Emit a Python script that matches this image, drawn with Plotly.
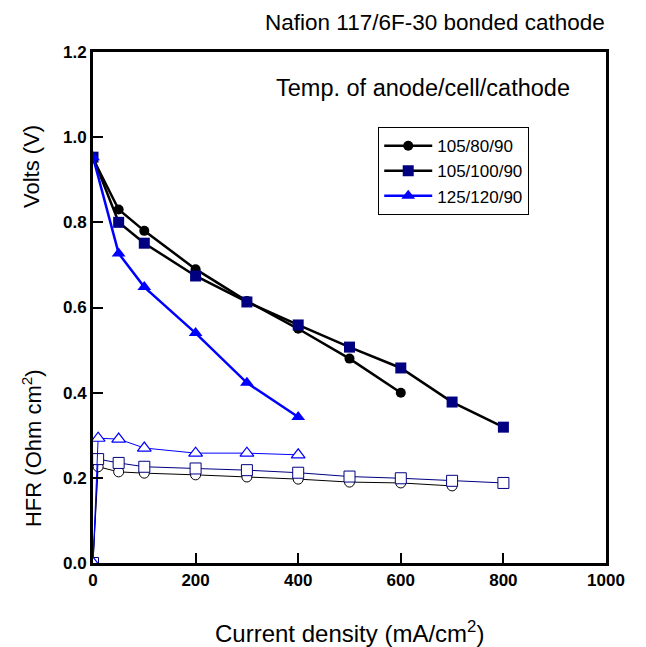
import plotly.graph_objects as go

# Polarisation data (Volts)
x_v1 = [0, 50, 100, 200, 300, 400, 500, 600]
y_v1 = [0.95, 0.83, 0.78, 0.69, 0.615, 0.55, 0.48, 0.40]
x_v2 = [0, 50, 100, 200, 300, 400, 500, 600, 700, 800]
y_v2 = [0.953, 0.80, 0.751, 0.674, 0.613, 0.559, 0.507, 0.458, 0.378, 0.319]
x_v3 = [0, 50, 100, 200, 300, 400]
y_v3 = [0.953, 0.727, 0.648, 0.540, 0.423, 0.343]

# HFR data (Ohm cm2)
x_h1 = [0, 10, 50, 100, 200, 300, 400, 500, 600, 700]
y_h1 = [0.0, 0.226, 0.214, 0.211, 0.207, 0.202, 0.197, 0.190, 0.188, 0.181]
x_h2 = [0, 10, 50, 100, 200, 300, 400, 500, 600, 700, 800]
y_h2 = [0.0, 0.244, 0.235, 0.226, 0.222, 0.218, 0.212, 0.203, 0.199, 0.193, 0.188]
x_h3 = [0, 10, 50, 100, 200, 300, 400]
y_h3 = [0.0, 0.293, 0.291, 0.270, 0.258, 0.258, 0.254]

names = ["105/80/90", "105/100/90", "125/120/90"]
x_ticks = [0, 200, 400, 600, 800, 1000]
y_ticks = [0, 0.2, 0.4, 0.6, 0.8, 1.0, 1.2]

BLACK = "#000000"
NAVY = "#000080"
BLUE = "#0000FF"
FONT = "Liberation Sans, Arial"

fig = go.Figure()

# HFR (open markers)
fig.add_trace(go.Scatter(x=x_h1, y=y_h1, mode="lines+markers", showlegend=False,
                         line=dict(color=BLACK, width=1),
                         marker=dict(symbol="circle", size=10, color="white",
                                     line=dict(color=BLACK, width=1))))
fig.add_trace(go.Scatter(x=x_h2, y=y_h2, mode="lines+markers", showlegend=False,
                         line=dict(color=NAVY, width=1),
                         marker=dict(symbol="square", size=11, color="white",
                                     line=dict(color=NAVY, width=1))))
fig.add_trace(go.Scatter(x=x_h3, y=y_h3, mode="lines+markers", showlegend=False,
                         line=dict(color=BLUE, width=1),
                         marker=dict(symbol="triangle-up", size=12, color="white",
                                     line=dict(color=BLUE, width=1.2))))

# Voltage (filled markers)
fig.add_trace(go.Scatter(x=x_v1, y=y_v1, mode="lines+markers", name=names[0],
                         line=dict(color=BLACK, width=2.5),
                         marker=dict(symbol="circle", size=10, color=BLACK)))
fig.add_trace(go.Scatter(x=x_v2, y=y_v2, mode="lines+markers", name=names[1],
                         line=dict(color=BLACK, width=2.5),
                         marker=dict(symbol="square", size=11, color=NAVY)))
fig.add_trace(go.Scatter(x=x_v3, y=y_v3, mode="lines+markers", name=names[2],
                         line=dict(color=BLUE, width=2.5),
                         marker=dict(symbol="triangle-up", size=12, color=BLUE)))

tickfont = dict(family=FONT, size=17, color="black", weight="bold")

fig.update_layout(
    width=646, height=647,
    margin=dict(l=85, r=48, t=44, b=92),
    paper_bgcolor="white", plot_bgcolor="white",
    font=dict(family=FONT, color="black"),
    xaxis=dict(range=[0, 1000], tickvals=x_ticks,
               ticks="inside", ticklen=10, tickwidth=2, tickcolor="black",
               showline=True, linecolor="black", linewidth=2.5, mirror=True,
               showgrid=False, zeroline=False, tickfont=tickfont),
    yaxis=dict(range=[0, 1.2], tickvals=y_ticks, tickformat=".1f",
               ticks="inside", ticklen=10, tickwidth=2, tickcolor="black",
               showline=True, linecolor="black", linewidth=3, mirror=True,
               showgrid=False, zeroline=False, tickfont=tickfont),
    legend=dict(x=0.556, y=0.853, xanchor="left", yanchor="top",
                bordercolor="black", borderwidth=1, bgcolor="white",
                font=dict(size=17, family=FONT),
                itemwidth=48, tracegroupgap=2),
    annotations=[
        dict(text="Nafion 117/6F-30 bonded cathode", xref="paper", yref="paper",
             x=0.667, y=1.0, yshift=30, xanchor="center", yanchor="middle",
             showarrow=False, font=dict(size=22.5)),
        dict(text="Temp. of anode/cell/cathode", xref="paper", yref="paper",
             x=0.934, y=0.93, xanchor="right", yanchor="middle",
             showarrow=False, font=dict(size=23.5)),
        dict(text="Volts (V)", xref="paper", yref="paper",
             x=0, xshift=-61, y=0.775, textangle=-90, xanchor="center",
             yanchor="middle", showarrow=False, font=dict(size=22)),
        dict(text="HFR (Ohm cm<sup>2</sup>)", xref="paper", yref="paper",
             x=0, xshift=-61, y=0.225, textangle=-90, xanchor="center",
             yanchor="middle", showarrow=False, font=dict(size=22)),
        dict(text="Current density (mA/cm<sup>2</sup>)", xref="paper", yref="paper",
             x=0.5, y=0, yshift=-69, xanchor="center", yanchor="middle",
             showarrow=False, font=dict(size=24)),
    ],
)

fig.write_html("out.html")
